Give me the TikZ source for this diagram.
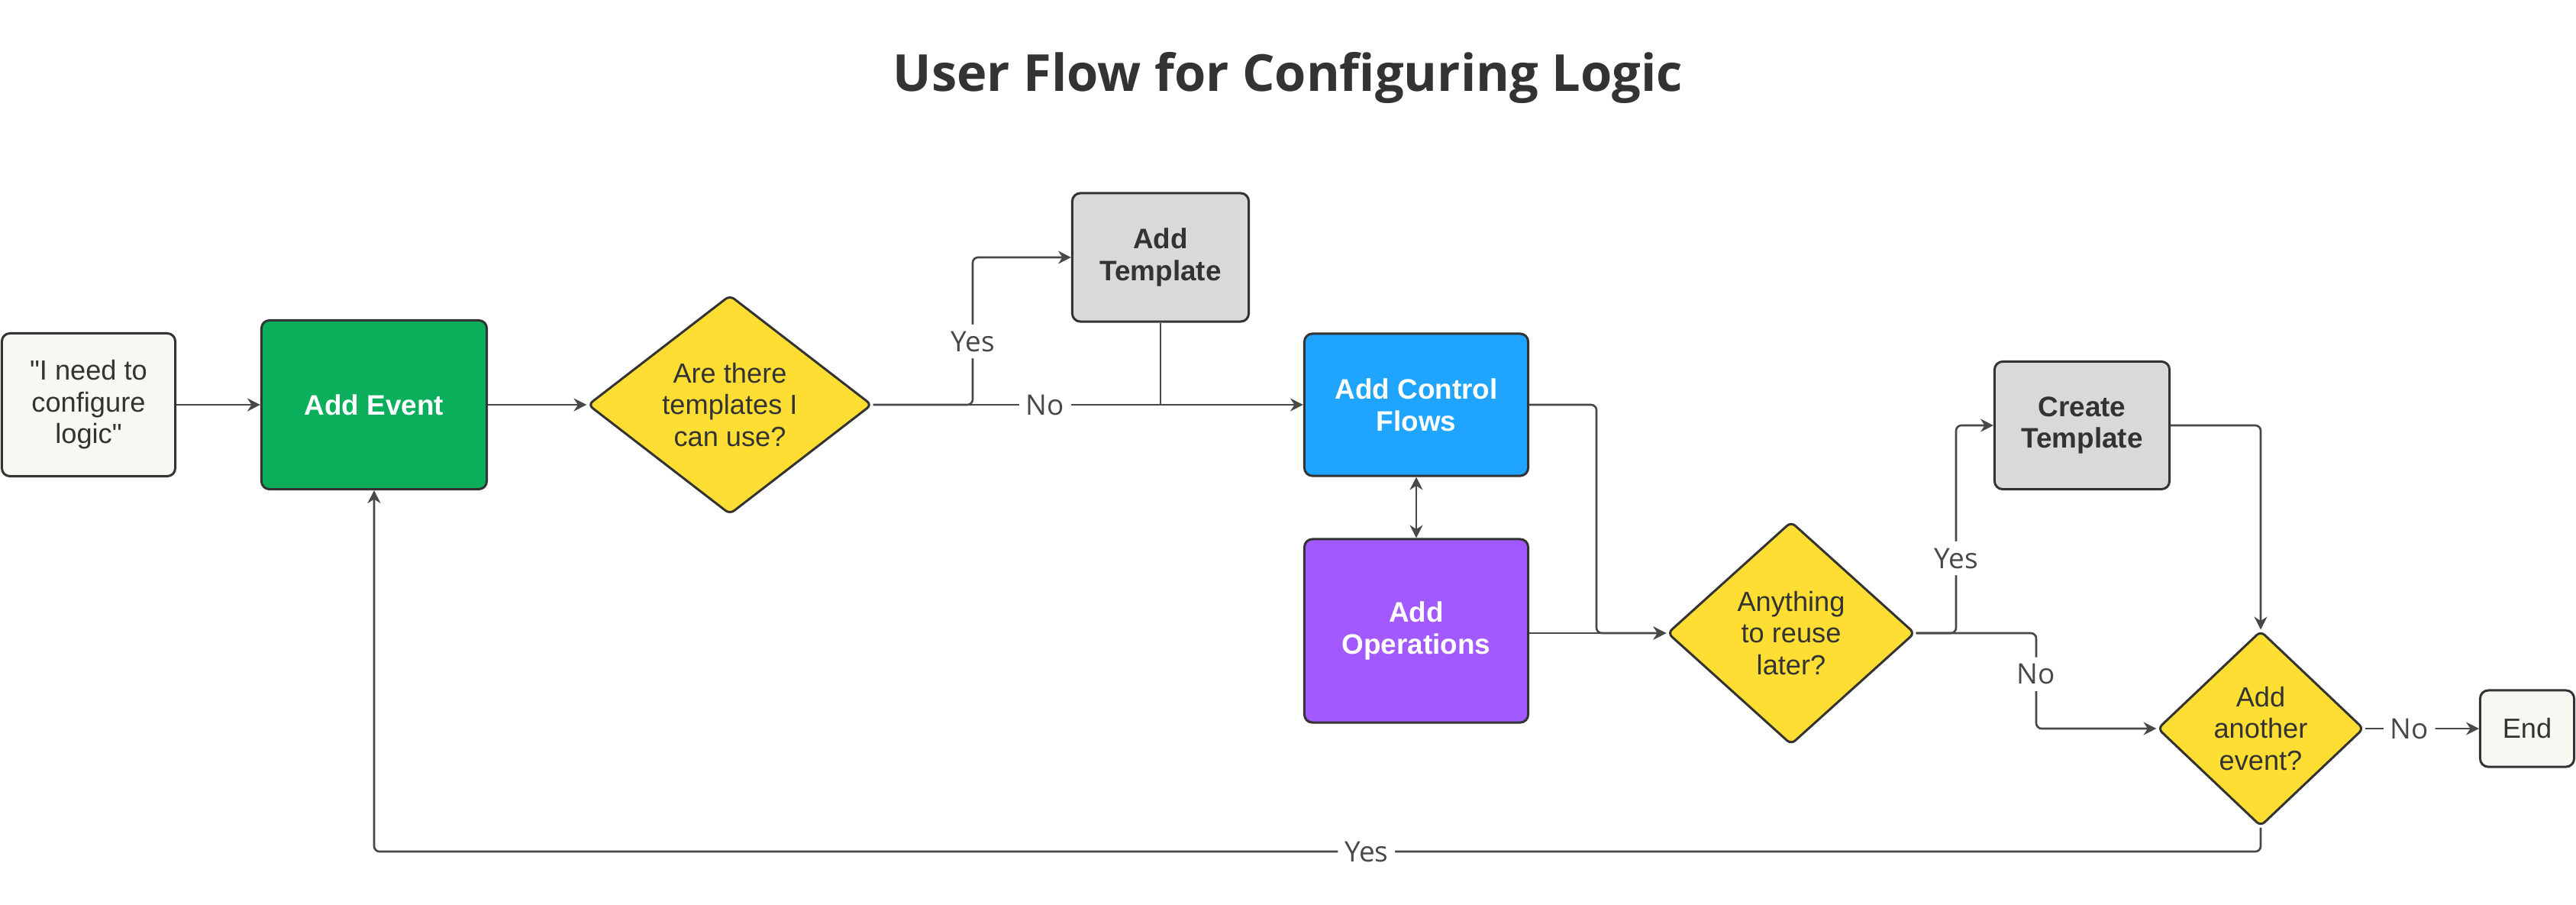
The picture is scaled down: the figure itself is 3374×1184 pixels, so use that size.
\documentclass[tikz,border=0pt]{standalone}
\usepackage{fontspec}
\setmainfont{Liberation Sans}[Ligatures=TeXOff]
\newfontfamily\opensans{Open Sans}
\usetikzlibrary{shapes.geometric,arrows.meta}
\definecolor{cream}{HTML}{F9F7F1}
\definecolor{evgreen}{HTML}{0AAE5B}
\definecolor{dyellow}{HTML}{FFDE33}
\definecolor{cfblue}{HTML}{1FA4FF}
\definecolor{oppurple}{HTML}{A259FF}
\definecolor{tgray}{HTML}{DAD8D9}
\definecolor{bord}{HTML}{333333}
\definecolor{lnc}{HTML}{484848}
\tikzset{
  box/.style={draw=bord, line width=0.85pt, rounded corners=3pt, align=center, inner sep=0pt,
    font=\fontsize{10.3pt}{11.8pt}\selectfont, text=bord},
  boldbox/.style={box, font=\fontsize{10.5pt}{11.9pt}\selectfont\bfseries},
  dia/.style={diamond, draw=bord, line width=0.85pt, fill=dyellow, align=center, inner sep=0pt,
    rounded corners=2pt, font=\fontsize{10.3pt}{11.8pt}\selectfont, text=bord},
  conn/.style={draw=lnc, line width=0.75pt, rounded corners=2pt, -{Stealth[length=4.8pt,width=4.8pt]}},
  plain/.style={draw=lnc, line width=0.75pt, rounded corners=2pt},
  lbl/.style={fill=white, inner sep=2.5pt, text=lnc, font=\opensans\fontsize{10.5pt}{12pt}\selectfont},
}
\begin{document}
\begin{tikzpicture}[x=0.01cm, y=-0.01cm]
\useasboundingbox (0,0) rectangle (3374,1184);
\node[font=\opensans\bfseries\fontsize{19pt}{23pt}\selectfont, text=bord] (title) at (1687,102) {User Flow for Configuring Logic};

\node[box, fill=cream, minimum width=2.27cm, minimum height=1.87cm] (start) at (116,530) {"I need to\\configure\\logic"};
\node[boldbox, fill=evgreen, text=white, minimum width=2.95cm, minimum height=2.21cm] (addevent) at (490,530) {Add Event};
\node[dia, minimum width=3.72cm, minimum height=2.87cm] (d1) at (956,530) {Are there\\templates I\\can use?};
\node[boldbox, fill=tgray, minimum width=2.31cm, minimum height=1.68cm] (addtpl) at (1520,337) {Add\\Template};
\node[boldbox, fill=cfblue, text=white, minimum width=2.93cm, minimum height=1.86cm] (acf) at (1855,530) {Add Control\\Flows};
\node[boldbox, fill=oppurple, text=white, minimum width=2.93cm, minimum height=2.40cm] (aop) at (1855,826) {Add\\Operations};
\node[dia, minimum width=3.24cm, minimum height=2.92cm] (d2) at (2346,829) {Anything\\to reuse\\later?};
\node[boldbox, fill=tgray, minimum width=2.29cm, minimum height=1.67cm] (ctpl) at (2727,557) {Create\\Template};
\node[dia, minimum width=2.70cm, minimum height=2.56cm] (d3) at (2961,954) {Add\\another\\event?};
\node[box, fill=cream, minimum width=1.23cm, minimum height=1.00cm] (endn) at (3310,954) {End};

\draw[conn] (start.east) -- (addevent.west);
\draw[conn] (addevent.east) -- (d1.west);
\draw[conn] (d1.east) -- (1274,530) -- node[lbl, pos=0.43]{Yes} (1274,337) -- (addtpl.west);
\draw[conn] (d1.east) -- node[lbl, pos=0.4]{No} (acf.west);
\draw[plain] (addtpl.south) -- (1520,530);
\draw[draw=lnc, line width=0.75pt, {Stealth[length=4.8pt,width=4.8pt]}-{Stealth[length=4.8pt,width=4.8pt]}] (acf.south) -- (aop.north);
\draw[conn] (acf.east) -- (2091,530) -- (2091,829) -- (d2.west);
\draw[conn] (aop.east |- d2.west) -- (d2.west);
\draw[conn] (d2.east) -- (2562,829) -- node[lbl, pos=0.36]{Yes} (2562,557) -- (ctpl.west);
\draw[conn] (d2.east) -- (2667,829) -- node[lbl, pos=0.43]{No} (2667,954) -- (d3.west);
\draw[conn] (ctpl.east) -- (2961,557) -- (d3.north);
\draw[conn] (d3.east) -- node[lbl, pos=0.39]{No} (endn.west);
\draw[conn] (d3.south) -- (2961,1115) -- node[lbl, pos=0.474]{Yes} (490,1115) -- (addevent.south);
\end{tikzpicture}
\end{document}
